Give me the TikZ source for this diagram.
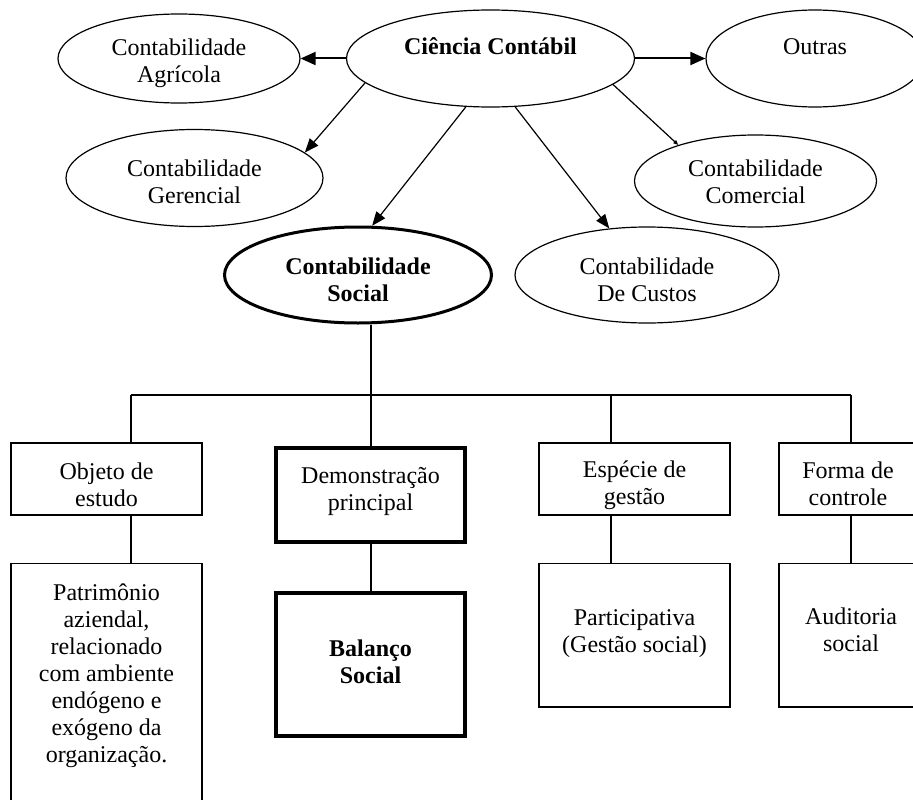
\documentclass[tikz,border=0pt]{standalone}
\usepackage{fontspec}
\setmainfont{Liberation Serif}
\usetikzlibrary{shapes.geometric, arrows.meta}

\begin{document}
\begin{tikzpicture}[x=1pt, y=-1pt, font=\fontsize{24}{27}\selectfont]
	\tikzset{
	    oval/.style={ellipse, draw, line width=1.2pt, inner sep=0pt},
	    box/.style={rectangle, draw, line width=1.2pt, inner sep=0pt},
	    txt/.style={align=center, inner sep=0pt},
	    wh/.style 2 args={minimum width=#1, minimum height=#2},
	    heavy/.style={line width=4pt},
	    link/.style={line width=1.2pt},
	    arr/.style={link, -{Triangle[length=14pt,width=11pt]}},
	    harr/.style={line width=2pt, -{Triangle[length=15pt,width=13pt]}}
	}
	\useasboundingbox (0,0) rectangle (913,800);
	\clip (0,0) rectangle (913,800);

	% elipses
	\node[oval, wh={288pt}{97pt}] (cc) at (490.5,58.5) {};
	\node[oval, wh={242pt}{89pt}] (agr) at (179,58.5) {};
	\node[oval, wh={218pt}{97pt}] (out) at (815,58.5) {};
	\node[oval, wh={257pt}{97pt}] (ger) at (194.5,178) {};
	\node[oval, wh={242pt}{92pt}] (com) at (755.5,181) {};
	\node[oval, wh={267pt}{96pt}, line width=3pt] (soc) at (358,275) {};
	\node[oval, wh={264pt}{96pt}] (cus) at (647,275) {};

	\node[txt] (cc-t) at ([yshift=12pt]cc.center) {\textbf{Ciência Contábil}};
	\node[txt] (agr-t) at ([yshift=-5pt]agr.center) {Contabilidade\\Agrícola};
	\node[txt] (out-t) at ([yshift=12pt]out.center) {Outras};
	\node[txt] (ger-t) at ([yshift=-4pt]ger.center) {Contabilidade\\Gerencial};
	\node[txt] (com-t) at ([yshift=-1pt]com.center) {Contabilidade\\Comercial};
	\node[txt] (soc-t) at ([yshift=-5pt]soc.center) {\textbf{Contabilidade}\\\textbf{Social}};
	\node[txt] (cus-t) at ([yshift=-5pt]cus.center) {Contabilidade\\De Custos};

	\draw[harr] (cc.west) -- (agr.east);
	\draw[harr] (cc.east) -- (out.west);
	\draw[arr] (cc.191) -- (ger.13);
	\draw[arr] (cc.243) -- (soc.74);
	\draw[arr] (cc.297) -- (cus.129);
	\draw[link, -{Triangle[length=5pt,width=4pt]}] (cc.348) -- (com.155);

	% caixas
	\node[box, wh={191pt}{72pt}] (obj) at (106.5,479) {};
	\node[box, heavy, wh={189pt}{93.5pt}] (dem) at (370.5,494.75) {};
	\node[box, wh={191pt}{72pt}] (esp) at (634.5,479) {};
	\node[box, wh={138pt}{72pt}] (frm) at (848,479) {};
	\node[box, wh={191pt}{266.5pt}] (pat) at (106.5,696.75) {};
	\node[box, heavy, wh={189pt}{143pt}] (bal) at (370.5,664) {};
	\node[box, wh={191pt}{143.5pt}] (par) at (634.5,635.25) {};
	\node[box, wh={144pt}{143.5pt}] (aud) at (851,635.25) {};

	\node[txt] (obj-t) at ([yshift=-6pt]obj.center) {Objeto de\\estudo};
	\node[txt] (dem-t) at ([yshift=3pt]dem.center) {Demonstração\\principal};
	\node[txt] (esp-t) at ([yshift=-6pt]esp.center) {Espécie de\\gestão};
	\node[txt] (frm-t) at ([yshift=-5pt]frm.center) {Forma de\\controle};
	\node[txt] (pat-t) at (106.5,676) {Patrimônio\\aziendal,\\relacionado\\com ambiente\\endógeno e\\exógeno da\\organização.};
	\node[txt] (bal-t) at ([yshift=2pt]bal.center) {\textbf{Balanço}\\\textbf{Social}};
	\node[txt] (par-t) at ([yshift=2pt]par.center) {Participativa\\(Gestão social)};
	\node[txt] (aud-t) at ([yshift=5pt]aud.center) {Auditoria\\social};

	\coordinate (b1) at (131,395);
	\coordinate (b2) at (371,395);
	\coordinate (b3) at (611,395);
	\coordinate (b4) at (851,395);

	\draw[link] (b1) -- (b4);
	\draw[link] (b2 |- soc.south) -- (b2 |- dem.north);
	\foreach \c/\a in {b1/obj, b3/esp, b4/frm} {
	    \draw[link] (\c) -- (\c |- \a.north);
	    }
	\foreach \c/\a/\b in {b1/obj/pat, b2/dem/bal, b3/esp/par, b4/frm/aud} {
	    \draw[link] (\c |- \a.south) -- (\c |- \b.north);
	    }
\end{tikzpicture}
\end{document}
